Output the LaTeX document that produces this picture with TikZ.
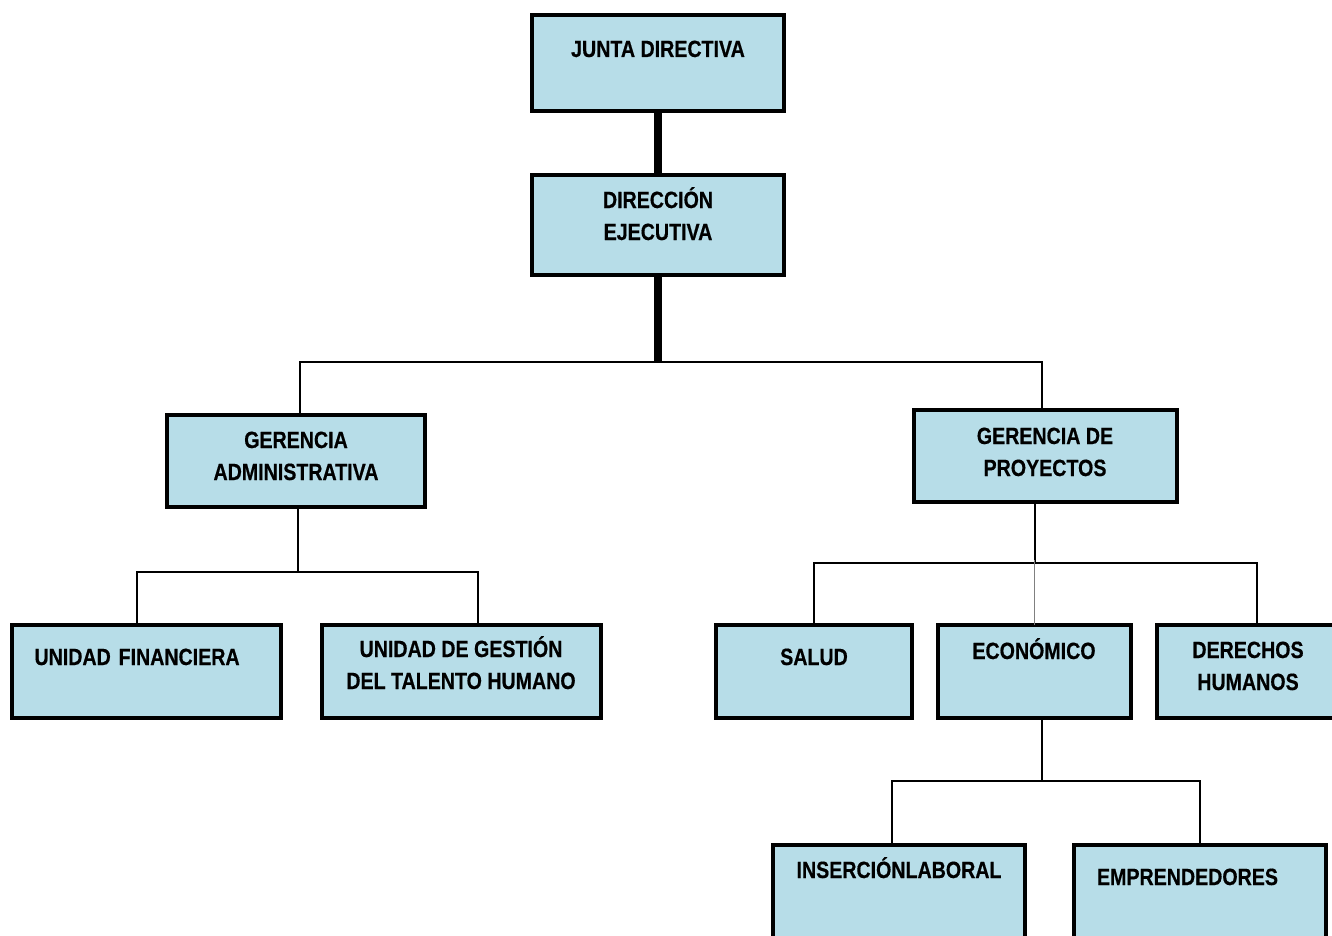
\documentclass[tikz,border=0pt]{standalone}
\usepackage{fontspec}
\setmainfont{Liberation Sans}[FakeStretch=0.835,BoldFeatures={FakeBold=0.5}]
\usetikzlibrary{positioning}
\definecolor{boxblue}{RGB}{183,221,232}

\begin{document}
\begin{tikzpicture}[x=1pt,y=-1pt,
 font=\bfseries\fontsize{23.5}{32}\selectfont,
 unit/.style={draw,line width=4pt,fill=boxblue,inner sep=0pt,outer sep=0pt,align=center,anchor=north},
 link/.style={line width=2pt},
 trunk/.style={line width=8pt}]
\useasboundingbox (0,0) rectangle (1332,936);
% boxes: anchored at the top edge, text height = offset of the last baseline
\node[unit,minimum width=252pt,text height=42pt,text depth=54pt] (junta) at (658,15) {JUNTA DIRECTIVA};
\node[unit,minimum width=252pt,text height=65pt,text depth=35pt] (direccion) at (658,175) {DIRECCIÓN\\EJECUTIVA};
\node[unit,minimum width=258pt,text height=65pt,text depth=27pt] (gadmin) at (296,415) {GERENCIA\\ADMINISTRATIVA};
\node[unit,minimum width=263pt,text height=66pt,text depth=26pt] (gproy) at (1045,410) {GERENCIA DE\\PROYECTOS};
\node[unit,minimum width=269pt,text width=223pt,align=left,text height=40pt,text depth=53pt] (ufin) at (146,625) {UNIDAD FINANCIERA};
\node[unit,minimum width=279pt,text height=64pt,text depth=29pt] (ugestion) at (461,625) {UNIDAD DE GESTIÓN\\DEL TALENTO HUMANO};
\node[unit,minimum width=196pt,text height=40pt,text depth=53pt] (salud) at (814,625) {SALUD};
\node[unit,minimum width=193pt,text height=34pt,text depth=59pt] (economico) at (1034,625) {ECONÓMICO};
\node[unit,minimum width=182pt,text height=65pt,text depth=28pt] (derechos) at (1248,625) {DERECHOS\\HUMANOS};
\node[unit,minimum width=252pt,text height=33pt,text depth=87pt] (insercion) at (899,845) {INSERCIÓNLABORAL};
\node[unit,minimum width=252pt,text width=206pt,align=left,text height=40pt,text depth=80pt] (empren) at (1200,845) {EMPRENDEDORES};

\coordinate (hub0) at (658,362);
\coordinate (hub1) at (298,572);
\coordinate (hub2) at (1035,563);
\coordinate (hub3) at (1042,781);

\draw[trunk] (junta) -- (direccion);
\draw[trunk] (direccion) -- (hub0);
\draw[link] ([xshift=4pt]gadmin.north) |- (hub0) -| ([xshift=-3pt]gproy.north);
\draw[link] ([xshift=2pt]gadmin.south) -- (hub1);
\draw[link] ([xshift=-9pt]ufin.north) |- (hub1) -| ([xshift=17pt]ugestion.north);
\draw[link] ([xshift=-10pt]gproy.south) -- (hub2);
\draw[link] (salud.north) |- (hub2) -| ([xshift=9pt]derechos.north);
\draw[gray,line width=1pt] ([yshift=3pt]economico.north |- hub2) -- (economico.north);
\draw[link] ([xshift=8pt]economico.south) -- (hub3);
\draw[link] ([xshift=-7pt]insercion.north) |- (hub3) -| (empren.north);
\end{tikzpicture}
\end{document}
